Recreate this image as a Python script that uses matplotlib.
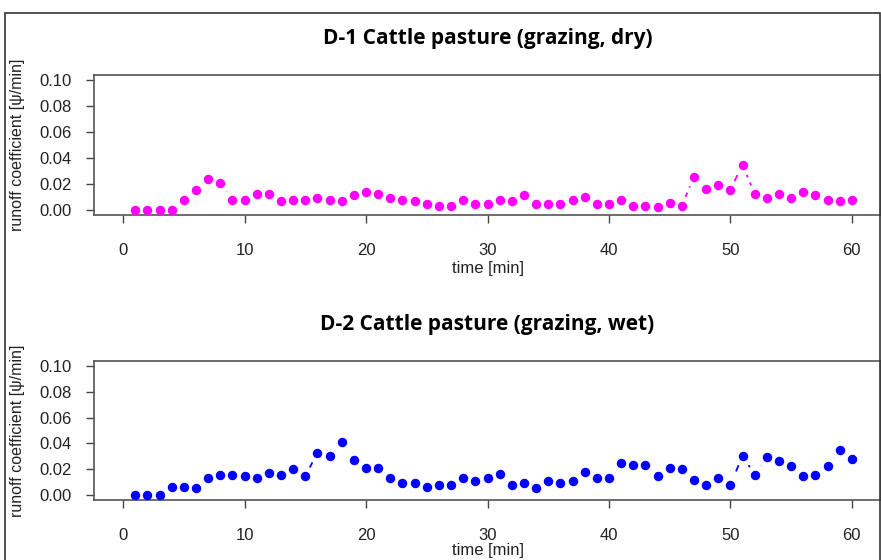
import matplotlib
matplotlib.use("Agg")
import matplotlib.pyplot as plt
from matplotlib.patches import Rectangle

plt.rcParams['font.family'] = ['Liberation Sans', 'DejaVu Sans']

time = list(range(1, 61))

dry = [0.000, 0.000, 0.000, 0.000, 0.0073, 0.0156, 0.0240, 0.0210, 0.0073, 0.0073,
       0.0122, 0.0122, 0.0065, 0.0073, 0.0073, 0.0089, 0.0073, 0.0065, 0.0114, 0.0140,
       0.0122, 0.0089, 0.0073, 0.0065, 0.0047, 0.0031, 0.0031, 0.0073, 0.0047, 0.0047,
       0.0073, 0.0065, 0.0114, 0.0047, 0.0047, 0.0047, 0.0073, 0.0097, 0.0047, 0.0047,
       0.0073, 0.0031, 0.0031, 0.0023, 0.0050, 0.0031, 0.0255, 0.0164, 0.0190, 0.0156,
       0.0348, 0.0122, 0.0089, 0.0122, 0.0089, 0.0140, 0.0114, 0.0073, 0.0065, 0.0073]

wet = [0.000, 0.000, 0.000, 0.0064, 0.0064, 0.0053, 0.0130, 0.0157, 0.0157, 0.0146,
       0.0130, 0.0173, 0.0157, 0.0200, 0.0146, 0.0327, 0.0303, 0.0412, 0.0268, 0.0207,
       0.0207, 0.0133, 0.0090, 0.0090, 0.0064, 0.0080, 0.0080, 0.0133, 0.0106, 0.0133,
       0.0160, 0.0080, 0.0090, 0.0056, 0.0106, 0.0090, 0.0106, 0.0176, 0.0133, 0.0133,
       0.0250, 0.0234, 0.0234, 0.0149, 0.0207, 0.0197, 0.0114, 0.0080, 0.0133, 0.0080,
       0.0303, 0.0157, 0.0292, 0.0266, 0.0223, 0.0149, 0.0157, 0.0226, 0.0346, 0.0276]

titles = ["D-1 Cattle pasture (grazing, dry)", "D-2 Cattle pasture (grazing, wet)"]
colors = ["#FF00FF", "#0000FF"]
xticks = [0, 10, 20, 30, 40, 50, 60]
yticks = [0.00, 0.02, 0.04, 0.06, 0.08, 0.10]

W, H = 881, 560
fig = plt.figure(figsize=(W / 100, H / 100), dpi=100)

# outer frame
fig.patches.append(Rectangle((5 / W, -0.05), (880 - 5) / W, 1.05 - 13 / H,
                             transform=fig.transFigure, fill=False,
                             edgecolor='#333333', linewidth=1.2))

boxes = [(94, 75, 881, 215), (94, 361, 881, 500)]
for i, (series, title, col) in enumerate(zip([dry, wet], titles, colors)):
    l, t, r, b = boxes[i]
    ax = fig.add_axes([l / W, 1 - b / H, (r - l) / W, (b - t) / H])
    ax.plot(time, series, linestyle=(0, (4, 3)), color=col, linewidth=1.3, zorder=1)
    ax.plot(time, series, linestyle='none', marker='o', markersize=13.5,
            markerfacecolor='white', markeredgecolor='white', zorder=2)
    ax.plot(time, series, linestyle='none', marker='o', markersize=5.8,
            markerfacecolor=col, markeredgecolor=col, zorder=3)
    ax.set_xlim(-2.4, 62.4)
    ax.set_ylim(-0.004, 0.104)
    ax.set_xticks(xticks)
    ax.set_xticklabels([str(v) for v in xticks])
    ax.set_yticks(yticks)
    ax.set_yticklabels([f"{v:.2f}" for v in yticks])
    ax.tick_params(axis='both', direction='out', length=6, width=1,
                   color='#444444', labelsize=12, labelcolor='#222222')
    ax.tick_params(axis='y', pad=10)
    ax.tick_params(axis='x', pad=14)
    for s in ax.spines.values():
        s.set_color('#555555')
        s.set_linewidth(1.2)
    ax.set_title(title, fontsize=15, fontweight='bold', pad=22,
                 family=['Open Sans', 'DejaVu Sans'])
    ax.set_xlabel("time [min]", fontsize=12, va='center', color='#222222')
    ax.xaxis.set_label_coords(0.5, -(53 if i == 0 else 51) / (b - t))
    ax.set_ylabel("runoff coefficient [\u03c8/min]", fontsize=11.5, va='center',
                  color='#222222')
    ax.yaxis.set_label_coords(-(94 - 18) / (r - l), 0.5)

fig.savefig("out.png", dpi=100)
